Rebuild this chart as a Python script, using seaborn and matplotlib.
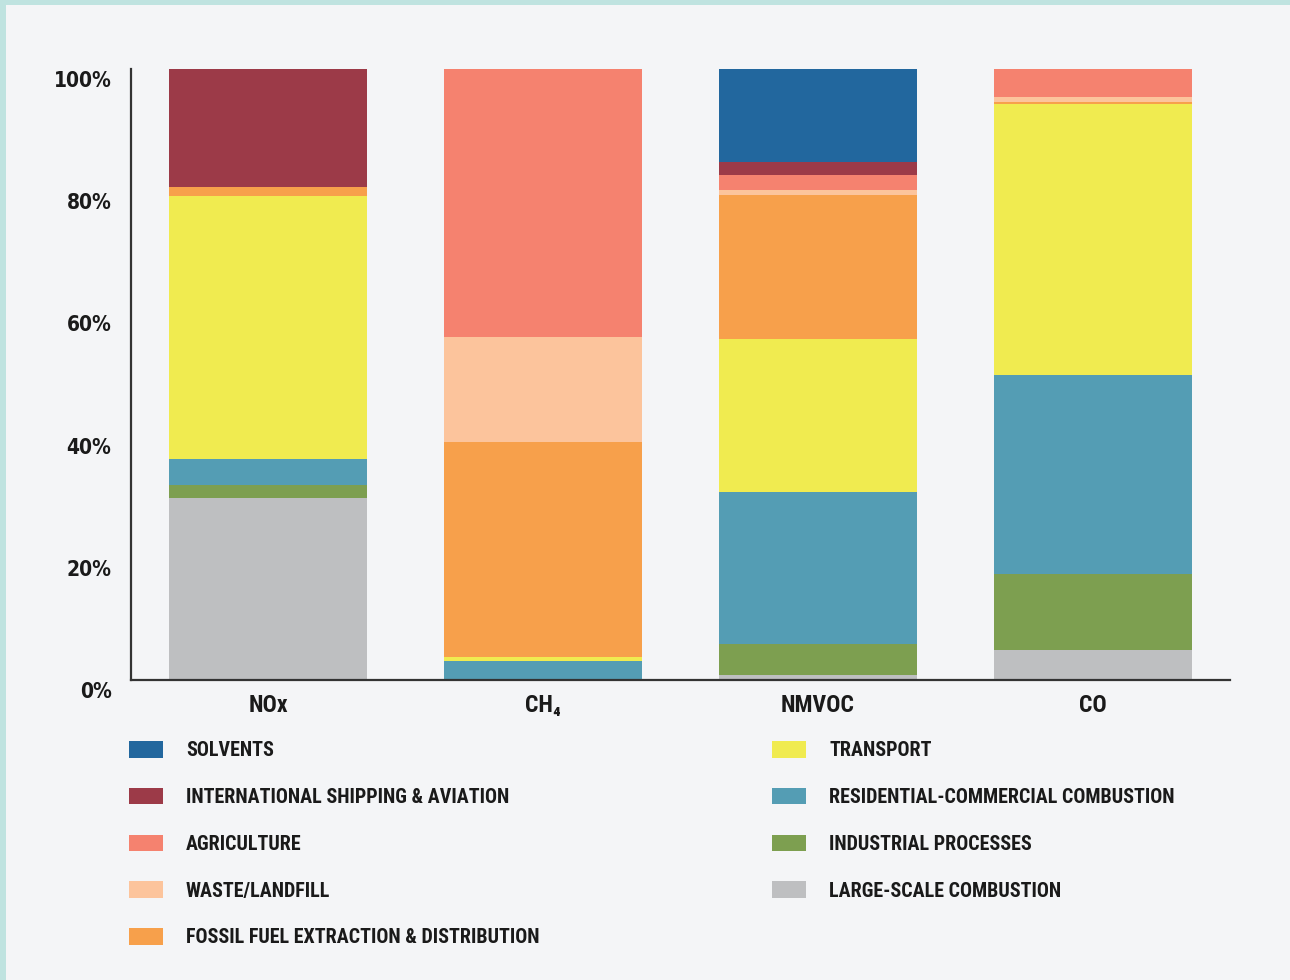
import matplotlib.pyplot as plt
import matplotlib.transforms as mtransforms
from matplotlib.patches import Patch, Rectangle
import seaborn as sns
import pandas as pd

# --- Data: share of emissions (%) by source sector ---
gases = ["NOx", "CH₄", "NMVOC", "CO"]

# sectors listed from the bottom of each stack to the top
sectors = [
    "LARGE-SCALE COMBUSTION",
    "INDUSTRIAL PROCESSES",
    "RESIDENTIAL-COMMERCIAL COMBUSTION",
    "TRANSPORT",
    "FOSSIL FUEL EXTRACTION & DISTRIBUTION",
    "WASTE/LANDFILL",
    "AGRICULTURE",
    "INTERNATIONAL SHIPPING & AVIATION",
    "SOLVENTS",
]
large_scale = [29.8, 0.0, 0.8, 4.9]
industrial = [2.1, 0.0, 5.1, 12.4]
residential = [4.3, 3.1, 24.9, 32.6]
transport = [43.0, 0.7, 25.0, 44.4]
fossil_fuel = [1.5, 35.2, 23.6, 0.3]
waste = [0.0, 17.1, 0.8, 0.8]
agriculture = [0.0, 43.9, 2.5, 4.6]
shipping = [19.3, 0.0, 2.1, 0.0]
solvents = [0.0, 0.0, 15.2, 0.0]

colors = ["#bebfc1", "#7d9f50", "#549db4", "#f0eb50", "#f7a04b",
          "#fcc49c", "#f5826f", "#9c3a48", "#22679e"]

# legend columns, as in the original layout
legend_left = ["SOLVENTS", "INTERNATIONAL SHIPPING & AVIATION", "AGRICULTURE",
               "WASTE/LANDFILL", "FOSSIL FUEL EXTRACTION & DISTRIBUTION"]
legend_right = ["TRANSPORT", "RESIDENTIAL-COMMERCIAL COMBUSTION",
                "INDUSTRIAL PROCESSES", "LARGE-SCALE COMBUSTION"]

values = [large_scale, industrial, residential, transport, fossil_fuel,
          waste, agriculture, shipping, solvents]
df = pd.DataFrame(
    [(g, s, v[i]) for s, v in zip(sectors, values) for i, g in enumerate(gases)],
    columns=["gas", "sector", "share"],
)
df["cum"] = df.groupby("gas", sort=False)["share"].cumsum()
color_map = dict(zip(sectors, colors))

bg = "#f4f5f7"
sns.set_theme(style="white", rc={"axes.facecolor": bg, "figure.facecolor": bg})
cond = ["Roboto Condensed", "DejaVu Sans"]

fig = plt.figure(figsize=(12.9, 9.8), dpi=100)
ax = fig.add_axes([131 / 1290, 1 - 680 / 980, (1230 - 131) / 1290, (680 - 69) / 980])

# stacked bars: draw cumulative totals from the top sector down
for sector in sectors[::-1]:
    sub = df[df["sector"] == sector]
    sns.barplot(data=sub, x="gas", y="cum", order=gases, color=color_map[sector],
                saturation=1, width=0.72, errorbar=None, linewidth=0, ax=ax)

ax.set_xlim(-0.5, 3.5)
ax.set_ylim(0, 100)
ax.set_xlabel("")
ax.set_ylabel("")

ax.set_yticks([0, 20, 40, 60, 80, 100])
ax.set_yticklabels([f"{t}%" for t in range(0, 101, 20)], fontsize=15,
                   fontweight="bold", color="#1a1a1a", family=["DejaVu Sans"],
                   fontstretch="condensed")
ax.set_xticks(range(len(gases)))
ax.set_xticklabels(gases, fontsize=17, fontweight="bold", color="#1a1a1a",
                   family=cond, fontstretch="condensed")
ax.tick_params(axis="y", length=0, pad=14)
ax.tick_params(axis="x", length=0, pad=10)

shift = mtransforms.ScaledTranslation(0, -10 / 100, fig.dpi_scale_trans)
for lab in ax.get_yticklabels():
    lab.set_transform(lab.get_transform() + shift)

for side in ["top", "right"]:
    ax.spines[side].set_visible(False)
for side in ["left", "bottom"]:
    ax.spines[side].set_color("#333333")
    ax.spines[side].set_linewidth(1.6)

# legends in two columns
def make_legend(labels, x):
    handles = [Patch(facecolor=color_map[l], edgecolor="none") for l in labels]
    leg = fig.legend(handles, labels, loc="upper left", bbox_to_anchor=(x, 1 - 741 / 980),
                     frameon=False, borderpad=0, borderaxespad=0,
                     handlelength=1.7, handleheight=0.9, handletextpad=1.15,
                     labelspacing=1.38,
                     prop={"family": cond, "weight": "bold", "size": 14.4,
                           "stretch": "condensed"})
    for t in leg.get_texts():
        t.set_color("#1a1a1a")
    return leg

make_legend(legend_left, 129 / 1290)
make_legend(legend_right, 772 / 1290)

# teal frame on the top and left edges
fig.patches.append(Rectangle((0, 1 - 5 / 980), 1, 5 / 980, transform=fig.transFigure,
                             facecolor="#bfe3e0", edgecolor="none"))
fig.patches.append(Rectangle((0, 0), 6 / 1290, 1, transform=fig.transFigure,
                             facecolor="#bfe3e0", edgecolor="none"))

fig.savefig("out.png", dpi=100, facecolor=bg)
